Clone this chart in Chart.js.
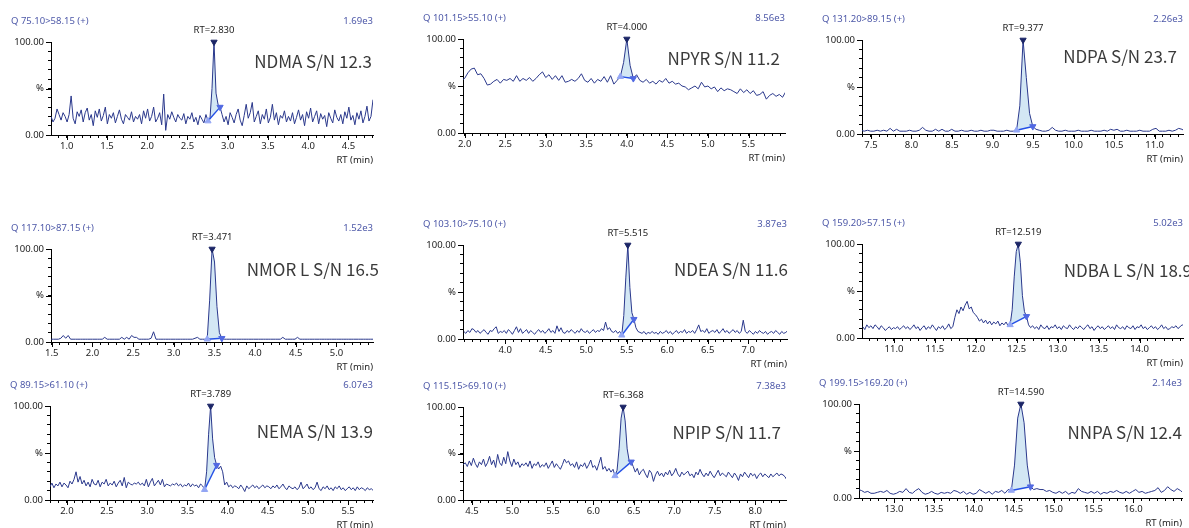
<!DOCTYPE html>
<html>
<head>
<meta charset="utf-8">
<script src="https://cdn.jsdelivr.net/npm/chart.js@4.4.1/dist/chart.umd.min.js"></script>
<style>
  html, body { margin: 0; padding: 0; background: #fff; }
  body { position: relative; width: 1189px; height: 528px; overflow: hidden; }
  .panel { position: absolute; }
  .panel canvas { display: block; }
</style>
</head>
<body>
<script>
// ---- Chromatogram data (relative intensity, % of each trace maximum) ----
const compounds = ['NDMA', 'NPYR', 'NDPA', 'NMOR L', 'NDEA', 'NDBA L', 'NEMA', 'NPIP', 'NNPA'];
const transitions = ['Q 75.10>58.15 (+)', 'Q 101.15>55.10 (+)', 'Q 131.20>89.15 (+)',
                     'Q 117.10>87.15 (+)', 'Q 103.10>75.10 (+)', 'Q 159.20>57.15 (+)',
                     'Q 89.15>61.10 (+)', 'Q 115.15>69.10 (+)', 'Q 199.15>169.20 (+)'];
const maxIntensity = ['1.69e3', '8.56e3', '2.26e3', '1.52e3', '3.87e3', '5.02e3', '6.07e3', '7.38e3', '2.14e3'];
const signalToNoise = ['12.3', '11.2', '23.7', '16.5', '11.6', '18.9', '13.9', '11.7', '12.4'];
const retentionTimes = [2.830, 4.000, 9.377, 3.471, 5.515, 12.519, 3.789, 6.368, 14.590];

// displayed RT window (min) of each trace
const rtWindows = [[0.805, 4.805], [1.98, 5.95], [7.39, 11.35],
                   [1.49, 5.45], [3.48, 7.48], [10.61, 14.53],
                   [1.79, 5.81], [4.39, 8.38], [12.56, 16.61]];

// acquisition: first scan time and scan interval (min)
const scanStart = [0.805, 1.96, 7.377, 1.491, 3.49, 10.619, 1.789, 4.393, 12.55];
const scanStep = [0.025, 0.04, 0.04, 0.03, 0.025, 0.025, 0.025, 0.025, 0.04];

// integration start / end times (min)
const integrationWindows = [[2.755, 2.905], [3.92, 4.08], [9.297, 9.497],
                            [3.411, 3.591], [5.44, 5.59], [12.419, 12.619],
                            [3.714, 3.864], [6.268, 6.468], [14.47, 14.71]];

// labelled RT ticks
const majorTicks = [
  [1.0, 1.5, 2.0, 2.5, 3.0, 3.5, 4.0, 4.5],
  [2.0, 2.5, 3.0, 3.5, 4.0, 4.5, 5.0, 5.5],
  [7.5, 8.0, 8.5, 9.0, 9.5, 10.0, 10.5, 11.0],
  [1.5, 2.0, 2.5, 3.0, 3.5, 4.0, 4.5, 5.0],
  [4.0, 4.5, 5.0, 5.5, 6.0, 6.5, 7.0],
  [11.0, 11.5, 12.0, 12.5, 13.0, 13.5, 14.0],
  [2.0, 2.5, 3.0, 3.5, 4.0, 4.5, 5.0, 5.5],
  [4.5, 5.0, 5.5, 6.0, 6.5, 7.0, 7.5, 8.0],
  [13.0, 13.5, 14.0, 14.5, 15.0, 15.5, 16.0]
];
const yTickValues = [0, 50, 100];
const yTickLabels = ['0.00', '%', '100.00'];

const ndma = [
  20, 14, 18, 28, 22, 16, 24, 20, 14, 22,
  42, 18, 12, 25, 20, 27, 14, 24, 29, 16,
  22, 10, 26, 19, 28, 15, 21, 30, 12, 22,
  18, 24, 13, 20, 27, 17, 12, 22, 19, 16,
  25, 14, 20, 17, 22, 12, 26, 18, 28, 15,
  20, 30, 14, 18, 24, 11, 44, 5, 22, 17,
  25, 19, 14, 22, 18, 16, 23, 12, 20, 17,
  24, 14, 19, 11, 21, 17, 13, 22, 15, 18,
  50, 100, 45, 33, 30, 22, 14, 20, 11, 24,
  19, 13, 22, 28, 16, 10, 21, 33, 18, 24,
  35, 14, 20, 26, 12, 22, 17, 28, 13, 19,
  33, 16, 24, 11, 21, 18, 26, 14, 20, 15,
  24, 12, 19, 27, 16, 22, 10, 25, 18, 29,
  14, 20, 26, 12, 23, 17, 21, 9, 24, 18,
  13, 27, 19, 15, 22, 12, 25, 18, 30, 16,
  21, 11, 24, 17, 26, 13, 20, 31, 15, 20,
  38
];
const npyr = [
  56, 58, 64, 68, 69, 62, 63, 58, 51, 52,
  55, 57, 53, 57, 56, 58, 55, 61, 55, 58,
  56, 59, 55, 58, 62, 65, 59, 62, 57, 61,
  56, 61, 54, 55, 57, 55, 58, 63, 56, 54,
  58, 53, 57, 55, 60, 54, 61, 52, 56, 60,
  75, 100, 72, 58, 62, 56, 54, 57, 53, 55,
  52, 56, 54, 58, 53, 55, 52, 53, 50, 49,
  46, 48, 50, 47, 54, 49, 50, 47, 49, 44,
  48, 45, 47, 46, 44, 42, 47, 43, 46, 42,
  45, 40, 41, 44, 36, 40, 42, 39, 41, 38,
  44
];
const ndpa = [
  4, 3, 4, 3, 3, 4, 3, 4, 3, 6,
  3, 5, 3, 3, 3, 4, 3, 3, 4, 7,
  4, 3, 3, 5, 3, 5, 3, 3, 5, 3,
  3, 4, 3, 3, 4, 3, 3, 4, 3, 3,
  4, 4, 3, 3, 3, 4, 3, 3, 4, 30,
  100, 60, 22, 8, 5, 4, 3, 3, 4, 7,
  4, 3, 3, 4, 3, 3, 3, 4, 3, 3,
  3, 4, 3, 3, 3, 4, 3, 5, 4, 5,
  3, 3, 4, 3, 3, 3, 4, 3, 3, 3,
  5, 6, 3, 3, 3, 4, 3, 4, 6, 5,
  3
];
const nmor = [
  3, 3, 3, 3, 4, 7, 4, 7, 3, 3,
  3, 3, 3, 3, 3, 3, 3, 3, 3, 3,
  3, 3, 5, 3, 3, 3, 3, 3, 3, 5,
  3, 5, 3, 7, 5, 5, 3, 3, 3, 3,
  3, 4, 11, 3, 3, 3, 3, 3, 3, 3,
  3, 3, 3, 3, 3, 3, 3, 3, 3, 4,
  5, 3, 3, 3, 3, 45, 100, 86, 38, 10,
  4, 3, 3, 3, 3, 3, 3, 3, 3, 3,
  3, 3, 3, 3, 3, 3, 3, 3, 3, 3,
  3, 3, 3, 3, 3, 5, 3, 3, 3, 3,
  3, 5, 3, 3, 3, 3, 3, 3, 3, 3,
  3, 3, 3, 3, 3, 3, 3, 3, 3, 3,
  3, 3, 3, 3, 3, 3, 3, 3, 3, 3,
  3, 3, 3
];
const ndea = [
  8, 6, 9, 7, 11, 10, 7, 9, 6, 8,
  10, 7, 5, 9, 8, 11, 13, 6, 8, 7,
  9, 6, 10, 8, 5, 9, 13, 7, 11, 6,
  8, 10, 6, 9, 7, 5, 8, 10, 7, 9,
  6, 8, 11, 7, 9, 6, 14, 8, 12, 7,
  6, 9, 7, 10, 8, 6, 9, 7, 11, 8,
  7, 9, 6, 8, 10, 7, 9, 8, 11, 9,
  18, 10, 12, 8, 7, 9, 6, 8, 4, 25,
  65, 100, 55, 28, 21, 12, 8, 7, 6, 8,
  5, 7, 6, 8, 6, 7, 5, 8, 6, 7,
  9, 6, 8, 5, 7, 9, 6, 8, 7, 10,
  6, 8, 7, 9, 6, 10, 15, 8, 9, 7,
  11, 6, 8, 9, 7, 10, 6, 8, 11, 7,
  9, 6, 8, 10, 7, 9, 6, 8, 20, 8,
  6, 9, 7, 5, 8, 6, 9, 7, 6, 8,
  5, 7, 8, 6, 9, 7, 5, 8, 6, 7,
  9
];
const ndba = [
  12, 9, 14, 11, 13, 10, 14, 12, 9, 13,
  11, 8, 10, 12, 9, 11, 10, 12, 9, 11,
  13, 10, 12, 9, 11, 14, 10, 12, 8, 11,
  13, 9, 12, 10, 14, 11, 8, 12, 10, 13,
  9, 11, 15, 10, 12, 22, 30, 26, 33, 29,
  35, 39, 31, 33, 27, 25, 22, 18, 20, 16,
  19, 15, 18, 14, 17, 15, 18, 13, 16, 14,
  17, 13, 14, 30, 65, 92, 100, 80, 45, 28,
  23, 14, 11, 13, 10, 12, 9, 14, 11, 10,
  13, 9, 12, 11, 14, 10, 12, 9, 13, 11,
  10, 14, 11, 9, 12, 10, 13, 11, 9, 12,
  14, 10, 12, 8, 11, 13, 10, 12, 9, 11,
  13, 10, 12, 9, 14, 11, 10, 12, 9, 13,
  11, 10, 13, 9, 12, 11, 14, 10, 12, 9,
  11, 13, 10, 12, 9, 11, 14, 10, 12, 9,
  10, 12, 11, 13, 10, 12, 14, 13
];
const nema = [
  14, 18, 13, 17, 15, 19, 14, 18, 16, 13,
  20, 17, 22, 30, 19, 25, 17, 21, 15, 19,
  14, 22, 17, 16, 21, 14, 19, 17, 22, 15,
  18, 16, 20, 14, 18, 21, 15, 24, 13, 19,
  17, 16, 18, 17, 19, 16, 18, 15, 22, 14,
  19, 23, 15, 18, 21, 16, 22, 14, 17, 16,
  15, 17, 16, 18, 15, 17, 14, 16, 15, 18,
  14, 17, 15, 16, 13, 17, 15, 11, 30, 70,
  100, 65, 45, 37, 33, 36, 30, 16, 19, 14,
  16, 13, 15, 14, 12, 16, 13, 9, 15, 12,
  14, 16, 13, 15, 12, 14, 16, 13, 15, 14,
  12, 15, 13, 16, 12, 14, 17, 13, 11, 15,
  13, 12, 14, 11, 13, 19, 12, 14, 17, 12,
  14, 11, 13, 19, 12, 10, 14, 12, 15, 11,
  13, 10, 14, 12, 15, 11, 13, 10, 12, 14,
  11, 13, 10, 14, 11, 13, 12, 10, 13, 11,
  12, 10
];
const npip = [
  38, 40, 36, 42, 37, 45, 39, 35, 41, 38,
  44, 36, 40, 47, 38, 43, 35, 49, 40, 37,
  46, 39, 52, 42, 36, 44, 38, 41, 35, 39,
  37, 40, 36, 42, 34, 39, 37, 41, 35, 38,
  36, 40, 34, 38, 42, 35, 39, 36, 33, 38,
  44, 40, 42, 37, 39, 35, 41, 33, 38, 36,
  40, 34, 38, 43, 35, 37, 32, 39, 46, 33,
  36, 31, 34, 30, 33, 26, 32, 55, 88, 100,
  85, 55, 42, 41, 36, 30, 34, 27, 31, 33,
  28, 24, 32, 29, 20, 27, 31, 26, 29, 25,
  30, 27, 32, 26, 29, 34, 28, 25, 30, 27,
  29, 31, 26, 28, 24, 30, 27, 33, 28, 25,
  29, 26, 31, 27, 24, 28, 32, 26, 29, 27,
  25, 30, 27, 24, 29, 26, 21, 28, 25, 30,
  27, 24, 29, 26, 28, 23, 27, 29, 25, 28,
  26, 24, 28, 25, 27, 29, 26, 28, 27, 25,
  21
];
const nnpa = [
  9, 8, 6, 7, 5, 5, 6, 7, 6, 8,
  5, 4, 5, 7, 6, 10, 6, 5, 8, 10,
  6, 4, 5, 7, 5, 4, 6, 5, 6, 5,
  8, 7, 5, 7, 4, 6, 4, 5, 9, 7,
  5, 7, 4, 7, 6, 8, 5, 9, 8, 35,
  85, 100, 80, 35, 12, 9, 10, 9, 9, 7,
  8, 6, 5, 7, 5, 7, 4, 6, 5, 10,
  7, 6, 5, 7, 5, 7, 4, 6, 5, 7,
  6, 8, 6, 5, 7, 5, 7, 9, 6, 7,
  5, 6, 7, 8, 11, 6, 8, 12, 9, 7,
  10, 8, 5
];
const traces = [ndma, npyr, ndpa, nmor, ndea, ndba, nema, npip, nnpa];

// ---- page layout: plot area of each panel [left, top, right, bottom] in px ----
const plotRects = [
  [51, 42, 373, 135], [463, 39, 785, 133], [862, 40, 1183, 134],
  [51, 249, 373, 342], [463, 245, 787, 339], [862, 244, 1183, 338],
  [50, 406, 373, 500], [463, 407, 786, 500], [859, 404, 1182, 498]
];
// offset of the S/N caption from the plot's top-right corner
const captionOffsets = [[-1, 20], [-5, 20], [-6, 17], [6, 21], [1, 25], [9, 27], [0, 26], [-5, 26], [0, 29]];

const PAD_LEFT = 50, PAD_TOP = 40, PAD_RIGHT = 16, PAD_BOTTOM = 30;
const MINOR_TICK = 3, MAJOR_TICK = 5;

const COLORS = {
  trace: '#2a388c',
  header: '#4d58a8',
  text: '#222222',
  caption: '#3a3a3a',
  fill: 'rgba(196, 223, 240, 0.75)',
  baseline: '#2450e6',
  apex: '#1b2566',
  start: '#93a6f4',
  end: '#5169e2'
};
const SMALL_FONT = '"Noto Sans", "DejaVu Sans", sans-serif';
const CAPTION_FONT = '"Noto Sans CJK SC", "Noto Sans", sans-serif';

// text drawn around each chromatogram: transition, scale, RT label, S/N caption, axis title;
// labelled ticks on both axes are drawn a little longer than the minor ones
const panelText = {
  id: 'panelText',
  afterDraw(chart, args, opts) {
    const i = opts.index;
    const { ctx, chartArea: a } = chart;
    const xs = chart.scales.x, ys = chart.scales.y;
    ctx.save();

    ctx.strokeStyle = '#000';
    ctx.lineWidth = 1;
    ctx.beginPath();
    majorTicks[i].forEach(v => {
      const px = Math.round(xs.getPixelForValue(v)) + 0.5;
      ctx.moveTo(px, a.bottom);
      ctx.lineTo(px, a.bottom + MAJOR_TICK);
    });
    yTickValues.forEach(v => {
      const py = Math.round(ys.getPixelForValue(v)) + 0.5;
      ctx.moveTo(a.left, py);
      ctx.lineTo(a.left - MAJOR_TICK, py);
    });
    ctx.stroke();

    ctx.textBaseline = 'middle';
    ctx.font = '9.5px ' + SMALL_FONT;
    ctx.fillStyle = COLORS.header;
    ctx.textAlign = 'left';
    ctx.fillText(transitions[i], a.left - 40, a.top - 21);
    ctx.textAlign = 'right';
    ctx.fillText(maxIntensity[i], a.right, a.top - 21);

    ctx.fillStyle = COLORS.text;
    ctx.textAlign = 'center';
    ctx.fillText('RT=' + retentionTimes[i].toFixed(3), xs.getPixelForValue(retentionTimes[i]), a.top - 12);
    ctx.textAlign = 'right';
    ctx.fillText('RT (min)', a.right, a.bottom + 25);

    ctx.font = '17px ' + CAPTION_FONT;
    ctx.fillStyle = COLORS.caption;
    ctx.textAlign = 'right';
    const off = captionOffsets[i];
    ctx.fillText(compounds[i] + ' S/N ' + signalToNoise[i], a.right + off[0], a.top + off[1]);
    ctx.restore();
  }
};

function nearestIndex(start, step, t) {
  return Math.round((t - start) / step);
}

function buildPanel(i) {
  const r = plotRects[i];
  const w = r[2] - r[0] + PAD_LEFT + PAD_RIGHT;
  const h = r[3] - r[1] + PAD_TOP + PAD_BOTTOM;
  const div = document.createElement('div');
  div.className = 'panel';
  div.style.left = (r[0] - PAD_LEFT) + 'px';
  div.style.top = (r[1] - PAD_TOP) + 'px';
  div.style.width = w + 'px';
  div.style.height = h + 'px';
  const canvas = document.createElement('canvas');
  canvas.width = w;
  canvas.height = h;
  canvas.style.width = w + 'px';
  canvas.style.height = h + 'px';
  div.appendChild(canvas);
  document.body.appendChild(div);

  const values = traces[i];
  const t0 = scanStart[i], dt = scanStep[i];
  const points = values.map((v, k) => ({ x: +(t0 + k * dt).toFixed(4), y: v }));

  const [ts, te] = integrationWindows[i];
  const ks = nearestIndex(t0, dt, ts), ke = nearestIndex(t0, dt, te);
  const peakPoints = points.slice(ks, ke + 1);
  const baselinePoints = [points[ks], points[ke]];
  const apexIdx = nearestIndex(t0, dt, retentionTimes[i]);
  const apexPoint = { x: retentionTimes[i], y: values[apexIdx] };

  const [xmin, xmax] = rtWindows[i];
  const majors = majorTicks[i];

  const marker = (pt, color, rot) => ({
    data: [pt], showLine: false, pointStyle: 'triangle', pointRotation: rot,
    pointRadius: 3.6, pointBackgroundColor: color, pointBorderColor: color,
    pointBorderWidth: 1, clip: false, order: 0
  });

  new Chart(canvas, {
    type: 'line',
    data: {
      datasets: [
        // 0: integrated peak area, filled down to the integration baseline (dataset 1)
        { data: peakPoints, borderWidth: 0, pointRadius: 0, backgroundColor: COLORS.fill,
          fill: { target: 1 }, order: 5 },
        // 1: integration baseline
        { data: baselinePoints, borderColor: COLORS.baseline, borderWidth: 1.4, pointRadius: 0,
          fill: false, order: 2 },
        // 2: chromatogram trace
        { data: points, borderColor: COLORS.trace, borderWidth: 1, pointRadius: 0,
          fill: false, tension: 0, order: 3 },
        // peak markers
        marker(apexPoint, COLORS.apex, 180),
        marker(points[ks], COLORS.start, 0),
        marker(points[ke], COLORS.end, 180)
      ]
    },
    options: {
      responsive: false,
      animation: false,
      devicePixelRatio: 1,
      events: [],
      layout: { padding: { left: 0, top: PAD_TOP, right: PAD_RIGHT, bottom: 0 } },
      plugins: {
        legend: { display: false },
        tooltip: { enabled: false },
        panelText: { index: i }
      },
      scales: {
        x: {
          type: 'linear', min: xmin, max: xmax,
          afterFit: s => { s.height = PAD_BOTTOM; },
          afterBuildTicks: s => {
            const ticks = [];
            for (let k = Math.ceil(xmin * 10 - 1e-6); k <= Math.floor(xmax * 10 + 1e-6); k++) {
              ticks.push({ value: k / 10 });
            }
            s.ticks = ticks;
          },
          ticks: {
            autoSkip: false, maxRotation: 0, minRotation: 0, padding: 3,
            color: COLORS.text, font: { size: 9.5, family: SMALL_FONT },
            callback: v => majors.some(m => Math.abs(m - v) < 1e-6) ? v.toFixed(1) : ''
          },
          grid: { display: true, drawOnChartArea: false, tickLength: MINOR_TICK, color: '#000', tickColor: '#000' },
          border: { display: true, color: '#000', width: 1 }
        },
        y: {
          min: 0, max: 100,
          afterFit: s => { s.width = PAD_LEFT; },
          afterBuildTicks: s => {
            const ticks = [];
            for (let v = 0; v <= 100; v += 10) ticks.push({ value: v });
            s.ticks = ticks;
          },
          ticks: {
            autoSkip: false, padding: 4,
            color: COLORS.text, font: { size: 9.5, family: SMALL_FONT },
            callback: v => {
              const k = yTickValues.indexOf(v);
              return k >= 0 ? yTickLabels[k] : '';
            }
          },
          grid: { display: true, drawOnChartArea: false, tickLength: MINOR_TICK, color: '#000', tickColor: '#000' },
          border: { display: true, color: '#000', width: 1 }
        }
      }
    },
    plugins: [panelText]
  });
}

for (let i = 0; i < compounds.length; i++) buildPanel(i);
</script>
</body>
</html>
